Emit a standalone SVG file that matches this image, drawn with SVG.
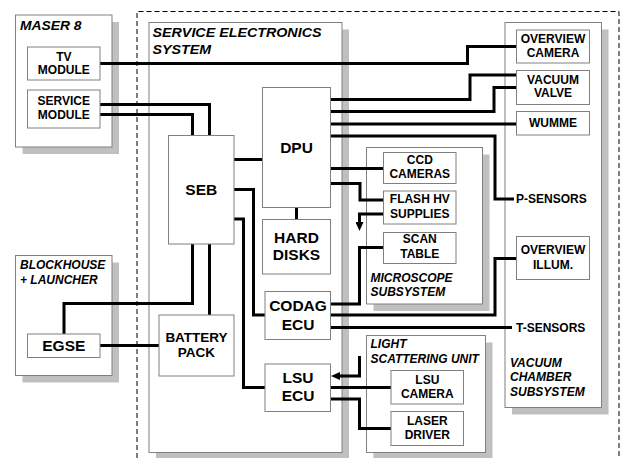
<svg xmlns="http://www.w3.org/2000/svg" width="621" height="458" viewBox="0 0 621 458">
<style>
.sh{fill:#c0c0c0;stroke:none}
.ct{fill:#fff;stroke:#808080;stroke-width:1}
.bx{fill:#fff;stroke:#808080;stroke-width:1}
.t{font-family:"Liberation Sans",Arial,sans-serif;font-weight:bold;font-size:12px;fill:#000;text-anchor:middle}
.tb{font-size:15.5px}
.tm{font-size:13.5px}
.ti{font-family:"Liberation Sans",Arial,sans-serif;font-weight:bold;font-style:italic;font-size:12px;fill:#000}
.tl{text-anchor:start}
.c{fill:none;stroke:#000;stroke-width:3;stroke-linejoin:miter;stroke-linecap:butt}
.dash{fill:none;stroke:#000;stroke-width:1;stroke-dasharray:5,3}
</style>
<defs>
<marker id="ar" markerUnits="userSpaceOnUse" markerWidth="9" markerHeight="8" refX="1" refY="4" orient="auto">
<path d="M0,0 L9,4 L0,8 z" fill="#000"/>
</marker>
</defs>
<rect width="621" height="458" fill="#fff"/>
<path class="dash" d="M137,458 V11.5 H619 V458"/>

<g id="maser8">
<rect class="sh" x="22.5" y="22" width="96.5" height="132"/>
<rect class="ct" x="15.5" y="15" width="96.5" height="132"/>
<text class="ti" x="20" y="29.5" textLength="61.5" lengthAdjust="spacingAndGlyphs">MASER 8</text>
</g>
<g id="blockhouse">
<rect class="sh" x="22.5" y="262.5" width="96.5" height="120"/>
<rect class="ct" x="15.5" y="255.5" width="96.5" height="120"/>
<text class="ti" x="20" y="269">BLOCKHOUSE</text>
<text class="ti" x="20" y="284">+ LAUNCHER</text>
</g>
<g id="ses">
<rect class="sh" x="156" y="29.5" width="193" height="430"/>
<rect class="ct" x="149" y="22.5" width="193" height="430"/>
<text class="ti" x="152.5" y="37" textLength="169" lengthAdjust="spacingAndGlyphs">SERVICE ELECTRONICS</text>
<text class="ti" x="152.5" y="53.5" textLength="58.5" lengthAdjust="spacingAndGlyphs">SYSTEM</text>
</g>
<g id="microscope">
<rect class="sh" x="373.5" y="154.5" width="116" height="156.5"/>
<rect class="ct" x="366.5" y="147.5" width="116" height="156.5"/>
<text class="ti" x="370.5" y="281.7">MICROSCOPE</text>
<text class="ti" x="370.5" y="296">SUBSYSTEM</text>
</g>
<g id="vacuum-chamber">
<rect class="sh" x="512" y="29.5" width="96.5" height="385"/>
<rect class="ct" x="505" y="22.5" width="96.5" height="385"/>
<text class="ti" x="510" y="366.7">VACUUM</text>
<text class="ti" x="510" y="381">CHAMBER</text>
<text class="ti" x="510" y="395.5">SUBSYSTEM</text>
</g>
<g id="lsu">
<rect class="sh" x="373.5" y="342.5" width="119" height="117"/>
<rect class="ct" x="366.5" y="335.5" width="119" height="117"/>
<text class="ti" x="370.5" y="348.3">LIGHT</text>
<text class="ti" x="370.5" y="362.7">SCATTERING UNIT</text>
</g>

<g id="connectors">
<path class="c" d="M100,63.5 H467.5 V46.5 H516.5"/>
<path class="c" d="M100,104.5 H209.5 V135.5"/>
<path class="c" d="M100,114.5 H192.5 V135.5"/>
<path class="c" d="M234,159.5 H262.5"/>
<path class="c" d="M330.5,99.5 H470 V75 H516.5"/>
<path class="c" d="M330.5,111.5 H494 V87.5 H516.5"/>
<path class="c" d="M330.5,124 H516.5"/>
<path class="c" d="M330.5,136 H495 V199 H514"/>
<path class="c" d="M330.5,168.5 H383.5"/>
<path class="c" d="M330.5,183.5 H360 V200 H383.5"/>
<path class="c" d="M383.5,214 H359.5 V223" marker-end="url(#ar)"/>
<path class="c" d="M296.5,207.5 V219.5"/>
<path class="c" d="M234,189.5 H253.5 V315 H265"/>
<path class="c" d="M234,219 H243.5 V387.5 H265"/>
<path class="c" d="M192.5,244 V303.5 H64 V334"/>
<path class="c" d="M209.5,244 V315"/>
<path class="c" d="M100,345.5 H159"/>
<path class="c" d="M383.5,247.5 H359.5 V304 H330.5"/>
<path class="c" d="M516.5,258.5 H495 V315 H330.5"/>
<path class="c" d="M330.5,327.5 H512"/>
<path class="c" d="M359.5,356 V376 H339" marker-end="url(#ar)"/>
<path class="c" d="M330.5,387.5 H391"/>
<path class="c" d="M330.5,399 H359.5 V428.5 H391"/>
</g>

<g id="tv-module"><rect class="bx" x="27.5" y="47" width="72.5" height="33"/><text class="t" x="63.8" y="61">TV</text><text class="t" x="63.8" y="74">MODULE</text></g>
<g id="service-module"><rect class="bx" x="27.5" y="90" width="72.5" height="38"/><text class="t" x="63.8" y="105">SERVICE</text><text class="t" x="63.8" y="119">MODULE</text></g>
<g id="egse"><rect class="bx" x="27.5" y="334" width="72.5" height="23.5"/><text class="t tb" x="63.8" y="350.5">EGSE</text></g>
<g id="seb"><rect class="bx" x="168.5" y="135.5" width="65.5" height="108.5"/><text class="t tb" x="201.3" y="194.5">SEB</text></g>
<g id="dpu"><rect class="bx" x="262.5" y="87.5" width="68" height="120"/><text class="t tb" x="296.5" y="152.5">DPU</text></g>
<g id="hard-disks"><rect class="bx" x="262.5" y="219.5" width="68" height="54.5"/><text class="t tb" x="296.5" y="242.7">HARD</text><text class="t tb" x="296.5" y="260">DISKS</text></g>
<g id="codag-ecu"><rect class="bx" x="265" y="291.5" width="65.5" height="48"/><text class="t tb" x="298" y="311">CODAG</text><text class="t tb" x="298" y="329.7">ECU</text></g>
<g id="lsu-ecu"><rect class="bx" x="265" y="364" width="65.5" height="47.5"/><text class="t tb" x="298" y="382.7">LSU</text><text class="t tb" x="298" y="401.3">ECU</text></g>
<g id="battery-pack"><rect class="bx" x="159" y="315" width="75" height="61"/><text class="t tm" x="196.5" y="341.7">BATTERY</text><text class="t tm" x="196.5" y="357.3">PACK</text></g>
<g id="ccd-cameras"><rect class="bx" x="383.5" y="152.5" width="72.5" height="31"/><text class="t" x="419.8" y="164">CCD</text><text class="t" x="419.8" y="178.3">CAMERAS</text></g>
<g id="flash-hv"><rect class="bx" x="383.5" y="191" width="72.5" height="33"/><text class="t" x="419.8" y="203.3">FLASH HV</text><text class="t" x="419.8" y="217.7">SUPPLIES</text></g>
<g id="scan-table"><rect class="bx" x="383.5" y="232.5" width="72.5" height="31"/><text class="t" x="419.8" y="243.3">SCAN</text><text class="t" x="419.8" y="257.7">TABLE</text></g>
<g id="overview-camera"><rect class="bx" x="516.5" y="30" width="73" height="33"/><text class="t" x="553" y="43.3">OVERVIEW</text><text class="t" x="553" y="57.3">CAMERA</text></g>
<g id="vacuum-valve"><rect class="bx" x="516.5" y="70.5" width="73" height="34"/><text class="t" x="553" y="84">VACUUM</text><text class="t" x="553" y="97.3">VALVE</text></g>
<g id="wumme"><rect class="bx" x="516.5" y="111.5" width="73" height="23.5"/><text class="t" x="553" y="127.3">WUMME</text></g>
<g id="p-sensors"><text class="t tl" x="516" y="203.3">P-SENSORS</text></g>
<g id="overview-illum"><rect class="bx" x="516.5" y="236.5" width="73" height="43"/><text class="t" x="553" y="254.3">OVERVIEW</text><text class="t" x="553" y="269">ILLUM.</text></g>
<g id="t-sensors"><text class="t tl" x="516" y="331.7">T-SENSORS</text></g>
<g id="lsu-camera"><rect class="bx" x="391" y="370.5" width="72.5" height="33.5"/><text class="t" x="427.3" y="384.3">LSU</text><text class="t" x="427.3" y="398.3">CAMERA</text></g>
<g id="laser-driver"><rect class="bx" x="391" y="411.5" width="72.5" height="34"/><text class="t" x="427.3" y="425">LASER</text><text class="t" x="427.3" y="439">DRIVER</text></g>
</svg>
